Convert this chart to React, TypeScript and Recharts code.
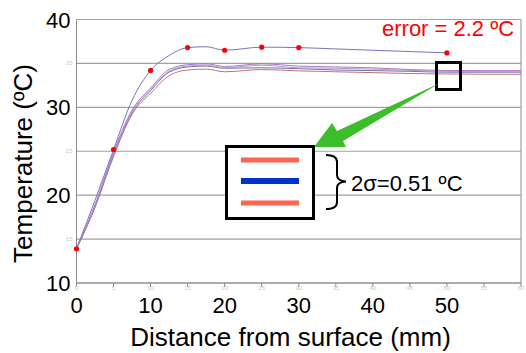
import React from 'react';
import { LineChart, Line, XAxis, YAxis, CartesianGrid, ReferenceLine } from 'recharts';

// distance from surface (mm)
const distance = [0, 2.5, 5, 7.5, 10, 12.5, 15, 17.5, 20, 25, 30, 35, 40, 45, 50, 55, 60];
// simulated profile (blue with red markers)
const model = [13.9, 19.4, 25.2, 30.8, 34.2, 35.9, 36.8, 36.9, 36.5, 36.85, 36.8, 36.65, 36.5, 36.35, 36.2, null, null];
const modelMarkers = [0, 5, 10, 15, 20, 25, 30, 50];
// measured profiles
const sensorA = [13.9, 18.9, 24.9, 29.7, 32.2, 34.3, 34.85, 34.95, 34.65, 34.95, 34.7, 34.6, 34.5, 34.3, 34.2, 34.18, 34.18];
const sensorB = [13.9, 18.8, 24.7, 29.5, 32.0, 34.1, 34.7, 34.8, 34.5, 34.8, 34.5, 34.45, 34.35, 34.2, 34.1, 34.05, 34.05];
const sensorC = [13.9, 18.7, 24.6, 29.4, 31.9, 34.0, 34.6, 34.7, 34.45, 34.5, 34.4, 34.25, 34.18, 34.1, 34.0, 34.0, 34.0];
const sensorD = [13.9, 18.6, 24.4, 29.2, 31.6, 33.6, 34.25, 34.35, 34.05, 34.3, 34.15, 34.05, 33.95, 33.85, 33.8, 33.77, 33.77];

const xTicks = [0, 5, 10, 15, 20, 25, 30, 35, 40, 45, 50, 55, 60];
const xMajor = [0, 10, 20, 30, 40, 50];
const yTicks = [10, 15, 20, 25, 30, 35, 40];
const yMajor = [10, 20, 30, 40];

const data = distance.map((d, i) => ({
  distance: d,
  model: model[i],
  a: sensorA[i],
  b: sensorB[i],
  c: sensorC[i],
  d: sensorD[i],
}));

const XTick = (props: any) => {
  const { x, y, payload } = props;
  const v = payload.value;
  return (
    <g>
      <text x={x} y={y + 1} textAnchor="middle" fontSize={6} fill="#cbc4dc">{v}</text>
      {xMajor.includes(v) && (
        <text x={x} y={y + 23.5} textAnchor="middle" fontSize={22} fill="#000">{v}</text>
      )}
    </g>
  );
};

const YTick = (props: any) => {
  const { x, y, payload } = props;
  const v = payload.value;
  if (yMajor.includes(v)) {
    return <text x={x - 6} y={y + 8} textAnchor="end" fontSize={22} fill="#000">{v}</text>;
  }
  return <text x={x - 4} y={y + 2} textAnchor="end" fontSize={6} fill="#cbc4dc">{v}</text>;
};

const ModelDot = (props: any) => {
  const { cx, cy, payload, index } = props;
  if (!modelMarkers.includes(payload.distance) || cy == null) return <g key={`md-${index}`} />;
  return <circle key={`md-${index}`} cx={cx} cy={cy} r={2.6} fill="#ff0000" />;
};

export default function App() {
  return (
    <div style={{ position: 'absolute', left: 0, top: 0, width: 526, height: 353, fontFamily: '"Liberation Sans", Arial, sans-serif', background: '#fff' }}>
      <LineChart width={526} height={353} data={data} margin={{ top: 19.5, right: 5, left: 6.5, bottom: 30 }}>
        <CartesianGrid vertical={false} stroke="#a0a0a0" strokeWidth={1.2} />
        <XAxis
          dataKey="distance"
          type="number"
          domain={[0, 60]}
          ticks={xTicks}
          height={40}
          stroke="#8a8a8a"
          tickSize={4}
          tickMargin={2}
          tick={<XTick />}
          interval={0}
        />
        <YAxis
          type="number"
          domain={[10, 40]}
          ticks={yTicks}
          width={70}
          stroke="#8a8a8a"
          tickLine={false}
          tickSize={0}
          tickMargin={0}
          tick={<YTick />}
          interval={0}
        />
        <ReferenceLine x={60} stroke="#a0a0a0" strokeWidth={1.2} />
        <Line type="monotone" dataKey="d" stroke="#c07474" strokeWidth={1} dot={false} isAnimationActive={false} />
        <Line type="monotone" dataKey="c" stroke="#7070a8" strokeWidth={1} dot={false} isAnimationActive={false} />
        <Line type="monotone" dataKey="b" stroke="#a8a0c8" strokeWidth={1} dot={false} isAnimationActive={false} />
        <Line type="monotone" dataKey="a" stroke="#b474c8" strokeWidth={1} dot={false} isAnimationActive={false} />
        <Line type="monotone" dataKey="model" stroke="#7474c4" strokeWidth={1} dot={<ModelDot />} connectNulls={false} isAnimationActive={false} />
      </LineChart>
      <svg width={526} height={353} style={{ position: 'absolute', left: 0, top: 0, pointerEvents: 'none' }}>
        <text x={32} y={163.5} transform="rotate(-90 32 163.5)" textAnchor="middle" fontSize={26} fill="#000">Temperature (ºC)</text>
        <text x={290.5} y={345.5} textAnchor="middle" fontSize={26} fill="#000">Distance from surface (mm)</text>
        <text x={382} y={36} fontSize={22} fill="#ff0000">error = 2.2 ºC</text>
        <rect x={436.5} y={62.5} width={24} height={27} fill="none" stroke="#000" strokeWidth={3} />
        <polygon points="314,147 332,123 337,131 440,83 343,141 346,147" fill="#3cbe2a" />
        <rect x={226.5} y={146.5} width={87} height={72} fill="#fff" stroke="#000" strokeWidth={3} />
        <line x1={241} y1={160} x2={299} y2={160} stroke="#ff6450" strokeWidth={5} />
        <line x1={241} y1={181} x2={299} y2={181} stroke="#0033cc" strokeWidth={6} />
        <line x1={241} y1={203} x2={299} y2={203} stroke="#ff6450" strokeWidth={5} />
        <path d="M326,155 Q337,155 337,162 L337,175 Q337,181 346,181.5 Q337,182 337,188 L337,202 Q337,209 326,209" fill="none" stroke="#000" strokeWidth={2} />
        <text x={351} y={191} fontSize={22} fill="#000">2σ=0.51 ºC</text>
      </svg>
    </div>
  );
}
